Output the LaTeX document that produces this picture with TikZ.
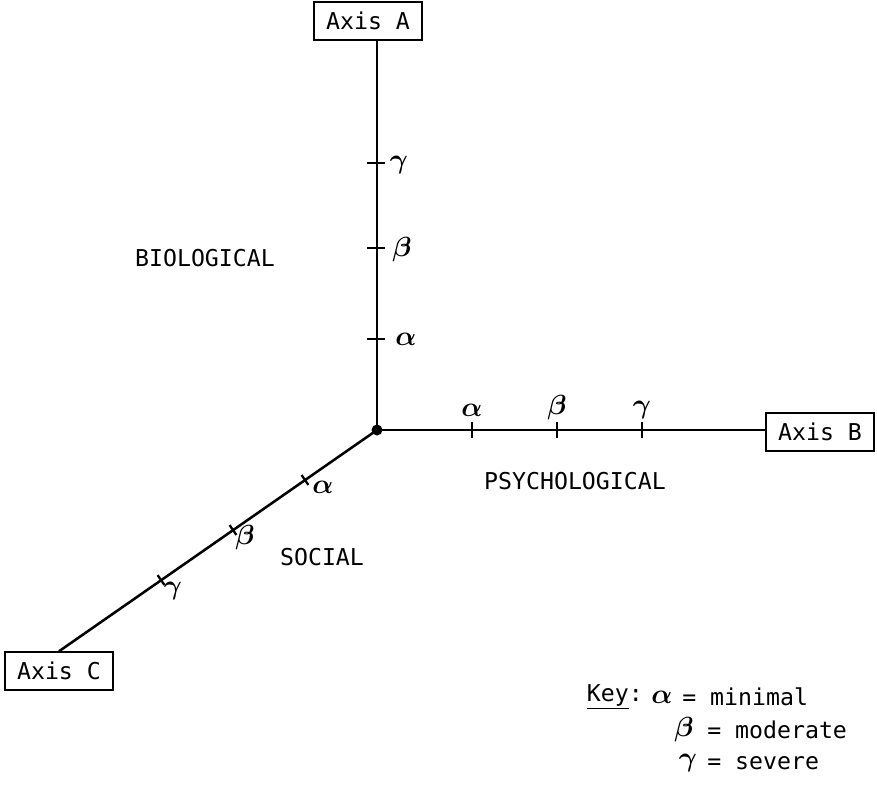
\documentclass[tikz,border=0pt]{standalone}
\usepackage{fontspec}
\setmonofont{DejaVu Sans Mono}
\usetikzlibrary{calc}
\begin{document}
\begin{tikzpicture}[x=0.75pt,y=-0.75pt,
  typed/.style={font=\ttfamily\fontsize{17.4}{20}\selectfont, inner sep=0pt},
  axisbox/.style={draw, line width=1.6pt, font=\ttfamily\fontsize{17.4}{20}\selectfont, minimum width=81pt, minimum height=28pt, inner sep=0pt},
  axisline/.style={line width=1.9pt},
  tickmark/.style={line width=1.7pt},
  greek/.style={font=\boldmath\fontsize{22}{24}\selectfont, inner sep=0pt}]
\useasboundingbox (0,0) rectangle (877,793);
% origin
\coordinate (O) at (377,430);
% axis boxes
\node[axisbox] (axA) at (368,21) {Axis A};
\node[axisbox] (axB) at (820,432) {Axis B};
\node[axisbox] (axC) at (59,671) {Axis C};
% axes
\draw[axisline] (O) -- (O |- axA.south);
\draw[axisline] (O) -- (O -| axB.west);
\draw[axisline] (O) -- (axC.north);
\fill (O) circle[radius=5.5];
% ticks on A
\coordinate (a1) at (376,339);
\coordinate (a2) at (376,248);
\coordinate (a3) at (376,163);
\foreach \p in {a1,a2,a3}{\draw[tickmark] ($(\p)+(-9,0)$) -- ($(\p)+(9,0)$);}
\node[greek] (la1) at (406,339) {$\alpha$};
\node[greek] (la2) at (402,250) {$\beta$};
\node[greek] (la3) at (399,165) {$\gamma$};
% ticks on B
\coordinate (b1) at (472,430);
\coordinate (b2) at (557,430);
\coordinate (b3) at (642,430);
\foreach \p in {b1,b2,b3}{\draw[tickmark] ($(\p)+(0,-8)$) -- ($(\p)+(0,8)$);}
\node[greek] (lb1) at (472,410) {$\alpha$};
\node[greek] (lb2) at (557,408) {$\beta$};
\node[greek] (lb3) at (642,410) {$\gamma$};
% ticks on C
\coordinate (c1) at (305,480);
\coordinate (c2) at (233,530);
\coordinate (c3) at (161,580);
\foreach \p in {c1,c2,c3}{\draw[tickmark] ($(\p)+(-3.4,-4.9)$) -- ($(\p)+(3.4,4.9)$);}
\node[greek] (lc1) at (323,487) {$\alpha$};
\node[greek] (lc2) at (245,538) {$\beta$};
\node[greek] (lc3) at (173,591) {$\gamma$};
% region labels
\node[typed] (bio) at (205,258) {BIOLOGICAL};
\node[typed] (psy) at (575,481) {PSYCHOLOGICAL};
\node[typed] (soc) at (322,557) {SOCIAL};
% key
\node[typed, anchor=east] (key) at (643,697) {\underline{Key}:};
\node[greek] (ka) at (662,697) {$\alpha$};
\node[typed, anchor=west] (kat) at (682,697) {= minimal};
\node[greek] (kb) at (684,730) {$\beta$};
\node[typed, anchor=west] (kbt) at (707,730) {= moderate};
\node[greek] (kc) at (688,763) {$\gamma$};
\node[typed, anchor=west] (kct) at (707,763) {= severe};
\end{tikzpicture}
\end{document}
